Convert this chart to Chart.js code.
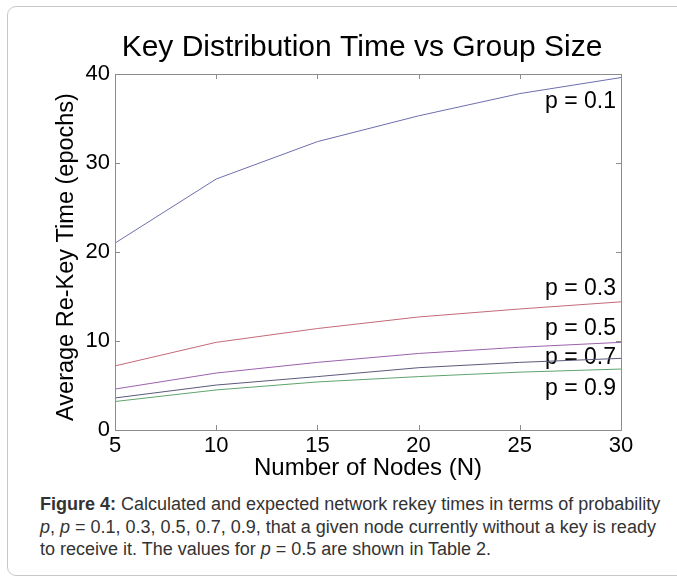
<!DOCTYPE html>
<html>
<head>
<meta charset="utf-8">
<script src="https://cdn.jsdelivr.net/npm/chart.js@4"></script>
<style>
  html, body { margin: 0; padding: 0; background: #fff; }
  body { width: 677px; height: 583px; position: relative; overflow: hidden; font-family: 'Liberation Sans', Arial, sans-serif; }
  #frame { position: absolute; left: 7px; top: 6px; width: 700px; height: 568px; border: 1px solid #c8c8c8; border-radius: 9px; }
  #wrap { position: absolute; left: 0; top: 0; width: 677px; height: 490px; }
  #caption { position: absolute; left: 40px; top: 493px; width: 634px; font-size: 18px; line-height: 22.5px; color: #333; }
</style>
</head>
<body>
<div id="frame"></div>
<div id="wrap"><canvas id="chart"></canvas></div>
<div id="caption"><b>Figure 4:</b> Calculated and expected network rekey times in terms of probability <i>p</i>, <i>p</i> = 0.1, 0.3, 0.5, 0.7, 0.9, that a given node currently without a key is ready to receive it. The values for <i>p</i> = 0.5 are shown in Table 2.</div>
<script>
// group sizes
const nodes = [5, 10, 15, 20, 25, 30];
// average re-key time per probability p
const p01 = [21.0, 28.2, 32.4, 35.3, 37.8, 39.6];
const p03 = [7.2, 9.85, 11.4, 12.7, 13.6, 14.4];
const p05 = [4.6, 6.4, 7.6, 8.6, 9.3, 9.85];
const p07 = [3.6, 5.05, 6.0, 7.0, 7.6, 8.05];
const p09 = [3.2, 4.5, 5.4, 6.0, 6.5, 6.85];
const seriesNames = ['p = 0.1', 'p = 0.3', 'p = 0.5', 'p = 0.7', 'p = 0.9'];
// where each curve label sits (y value, at the right edge)
const labelAt = [36.85, 15.85, 11.35, 8.1, 4.6];
const yTicks = [0, 10, 20, 30, 40];

const FONT = "'Liberation Sans', Arial, sans-serif";
const colors = ['#6e6eae', '#c46a78', '#9c62ac', '#5a5a7c', '#5ea46c'];

// matlab-like box with inward ticks, titles and the curve labels
const boxPlugin = {
  id: 'box',
  beforeDatasetsDraw(chart) {
    const { ctx, chartArea: a, scales: { y } } = chart;
    ctx.save();
    ctx.fillStyle = '#000';
    ctx.textAlign = 'center';
    ctx.textBaseline = 'alphabetic';
    ctx.font = '30px ' + FONT;
    ctx.fillText('Key Distribution Time vs Group Size', 362, 56);
    ctx.font = '24px ' + FONT;
    ctx.textBaseline = 'middle';
    ctx.fillText('Number of Nodes (N)', 368, 468);
    ctx.save();
    ctx.translate(67, 257);
    ctx.rotate(-Math.PI / 2);
    ctx.font = '23.5px ' + FONT;
    ctx.fillText('Average Re-Key Time (epochs)', 0, 0);
    ctx.restore();

    ctx.font = '23px ' + FONT;
    ctx.textAlign = 'right';
    seriesNames.forEach((name, i) => {
      ctx.fillText(name, a.right - 5, y.getPixelForValue(labelAt[i]));
    });
    ctx.restore();
  },
  afterDatasetsDraw(chart) {
    const { ctx, chartArea: a, scales: { x, y } } = chart;
    ctx.save();
    ctx.strokeStyle = '#8c8c8c';
    ctx.lineWidth = 1;
    ctx.beginPath();
    ctx.rect(Math.round(a.left) + 0.5, Math.round(a.top) + 0.5, Math.round(a.right - a.left), Math.round(a.bottom - a.top));
    nodes.forEach((n, i) => {
      const px = Math.round(x.getPixelForValue(i)) + 0.5;
      ctx.moveTo(px, a.bottom); ctx.lineTo(px, a.bottom - 5);
      ctx.moveTo(px, a.top); ctx.lineTo(px, a.top + 5);
    });
    yTicks.forEach((v) => {
      const py = Math.round(y.getPixelForValue(v)) + 0.5;
      ctx.moveTo(a.left, py); ctx.lineTo(a.left + 5, py);
      ctx.moveTo(a.right, py); ctx.lineTo(a.right - 5, py);
    });
    ctx.stroke();
    ctx.restore();
  },
};

new Chart(document.getElementById('chart'), {
  type: 'line',
  data: {
    labels: nodes,
    datasets: [p01, p03, p05, p07, p09].map((d, i) => ({
      label: seriesNames[i],
      data: d,
      borderColor: colors[i],
      borderWidth: 1,
      pointRadius: 0,
      tension: 0,
      fill: false,
    })),
  },
  options: {
    responsive: true,
    maintainAspectRatio: false,
    animation: false,
    layout: { padding: { left: 0, right: 56, top: 74, bottom: 0 } },
    plugins: {
      legend: { display: false },
      tooltip: { enabled: false },
      title: { display: false },
    },
    scales: {
      x: {
        type: 'category',
        offset: false,
        grid: { display: false, drawTicks: false },
        border: { display: false },
        ticks: { color: '#000', padding: 3, maxRotation: 0, font: { family: FONT, size: 22 } },
        afterFit: (s) => { s.height = 60; },
      },
      y: {
        min: 0,
        max: 40,
        grid: { display: false, drawTicks: false },
        border: { display: false },
        ticks: { stepSize: 10, color: '#000', padding: 5, font: { family: FONT, size: 22 } },
        afterFit: (s) => { s.width = 115; },
      },
    },
  },
  plugins: [boxPlugin],
});
</script>
</body>
</html>
